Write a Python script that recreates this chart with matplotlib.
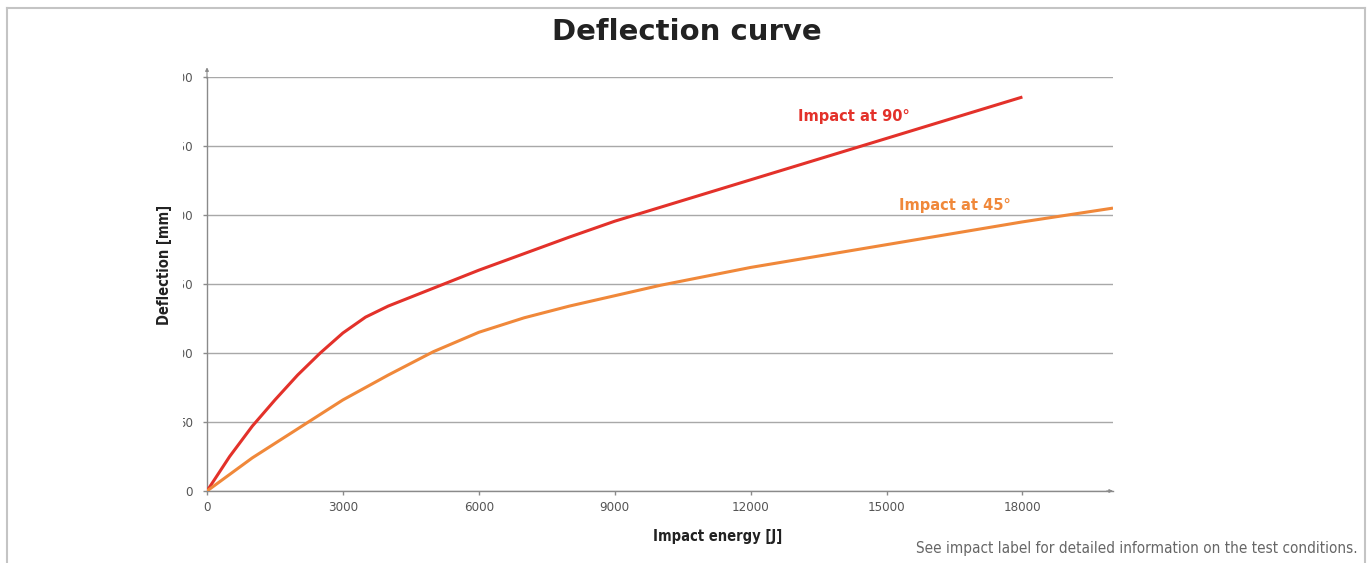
import numpy as np
import matplotlib
matplotlib.use("Agg")
import matplotlib.pyplot as plt
from matplotlib.lines import Line2D
from matplotlib.transforms import Bbox, TransformedBbox

# data
energy_90 = [0, 500, 1000, 1500, 2000, 2500, 3000, 3500, 4000, 4500, 5000,
             6000, 7000, 8000, 9000, 10000, 12000, 14000, 16000, 18000]
defl_90 = [0, 25, 47, 66, 84, 100, 114.5, 126, 134, 140.5, 147,
           160, 172, 184, 195.5, 205.5, 225.5, 245.5, 265.5, 285.5]

energy_45 = [0, 1000, 2000, 3000, 4000, 5000, 6000, 7000, 8000, 9000,
             10000, 12000, 14000, 16000, 18000, 20000]
defl_45 = [0, 24, 45, 66, 84, 101, 115, 125.5, 134, 141.5,
           149, 162, 173, 184, 195, 205]

xticks = [0, 3000, 6000, 9000, 12000, 15000, 18000]
yticks = [0, 50, 100, 150, 200, 250, 300]

red = '#e3312a'
orange = '#f0883a'
W, H = 1368, 563

fig = plt.figure(figsize=(W/100, H/100), dpi=100)
fig.patch.set_facecolor('white')

# outer frame
fc = '#c4c4c4'
fig.add_artist(Line2D([7/W, 7/W], [0, 1 - 8/H], transform=fig.transFigure, color=fc, lw=1.5))
fig.add_artist(Line2D([7/W, 1365/W], [1 - 8/H, 1 - 8/H], transform=fig.transFigure, color=fc, lw=1.5))
fig.add_artist(Line2D([1365/W, 1365/W], [0, 1 - 8/H], transform=fig.transFigure, color=fc, lw=1.5))

ax = fig.add_axes([207/W, 72/H, 906/W, 414/H])
ax.set_xlim(0, 20000)
ax.set_ylim(0, 300)

ax.plot(energy_90, defl_90, color=red, lw=2.2, solid_capstyle='butt', zorder=3)
ax.plot(energy_45, defl_45, color=orange, lw=2.2, solid_capstyle='butt', zorder=3)

ax.set_xticks(xticks)
ax.set_yticks(yticks)
ax.set_yticklabels([str(v) for v in yticks])
ax.grid(axis='y', color='#a8a8a8', lw=1)
ax.set_axisbelow(True)
for s in ['top', 'right']:
    ax.spines[s].set_visible(False)
for s in ['left', 'bottom']:
    ax.spines[s].set_color('#8a8a8a')
    ax.spines[s].set_linewidth(1)
ax.tick_params(axis='both', colors='#8a8a8a', length=3, width=1, labelcolor='#555555',
               labelsize=9.5)
ax.tick_params(axis='y', pad=7)
ax.tick_params(axis='x', pad=4.5)
for lbl in ax.get_xticklabels() + ax.get_yticklabels():
    lbl.set_fontstretch('condensed')

# small arrow heads at the axis ends
ax.annotate('', xy=(0, 1.03), xytext=(0, 0.99), xycoords='axes fraction',
            arrowprops=dict(arrowstyle='-|>', color='#8a8a8a', lw=0.8,
                            mutation_scale=5), annotation_clip=False)
ax.annotate('', xy=(1.003, 0), xytext=(0.99, 0), xycoords='axes fraction',
            arrowprops=dict(arrowstyle='-|>', color='#8a8a8a', lw=0.8,
                            mutation_scale=5), annotation_clip=False)

# y tick labels are cut off on the left in the original
clip = TransformedBbox(Bbox([[183/W, 0], [0.5, 1]]), fig.transFigure)
for lbl in ax.get_yticklabels():
    lbl.set_clip_on(True)
    lbl.set_clip_box(clip)

fig.text(718/W, 1 - 537/H, 'Impact energy [J]', fontsize=10.5, fontweight='bold',
         fontstretch='condensed', color='#222222', ha='center', va='center')
fig.text(164/W, 1 - 265/H, 'Deflection [mm]', fontsize=10.5, fontweight='bold',
         fontstretch='condensed', color='#222222', ha='center', va='center', rotation=90)

fig.text(798/W, 1 - 116/H, 'Impact at 90°', color=red, fontsize=10.5,
         fontweight='bold', va='center', ha='left')
fig.text(899/W, 1 - 205/H, 'Impact at 45°', color=orange, fontsize=10.5,
         fontweight='bold', va='center', ha='left')

fig.text(687/W, 1 - 32/H, 'Deflection curve', fontsize=21, fontweight='bold',
         color='#222222', ha='center', va='center')
fig.text(1358/W, 1 - 549/H, 'See impact label for detailed information on the test conditions.',
         fontsize=11, color='#666666', ha='right', va='center', fontstretch='condensed')

fig.savefig('out.png', dpi=100)
